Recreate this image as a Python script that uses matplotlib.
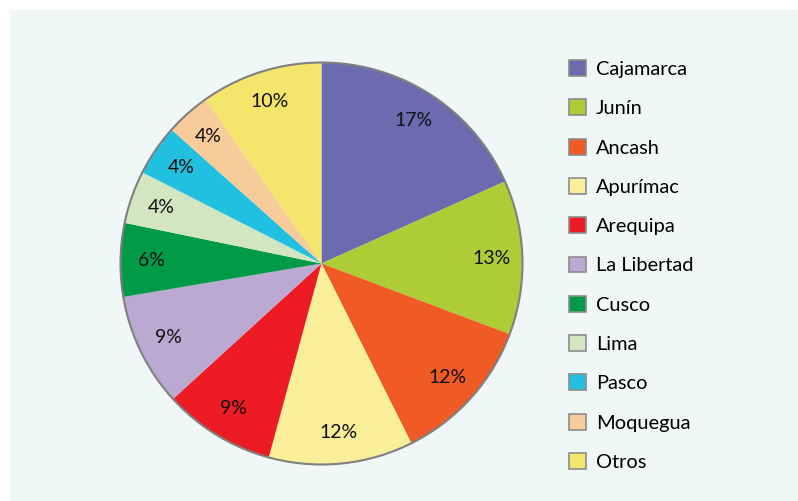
import matplotlib
matplotlib.use("Agg")
import matplotlib.pyplot as plt
from matplotlib.patches import Rectangle, Circle, Patch
import numpy as np

regions = ["Cajamarca", "Junín", "Ancash", "Apurímac", "Arequipa", "La Libertad",
           "Cusco", "Lima", "Pasco", "Moquegua", "Otros"]
shares = [18.3, 12.4, 11.9, 11.6, 9.0, 9.1, 5.9, 4.25, 4.1, 3.6, 9.8]
pct_labels = ["17%", "13%", "12%", "12%", "9%", "9%", "6%", "4%", "4%", "4%", "10%"]
colors = ["#6B6BB0", "#ADCD37", "#F05A24", "#F9EF9A", "#ED1C24", "#BCA9D1",
          "#009A49", "#D3E6C2", "#21C0E0", "#F8CB9A", "#F4E56D"]

W, H = 798, 501
fig = plt.figure(figsize=(W / 100, H / 100), dpi=100)
fig.patch.set_facecolor("white")
fig.patches.append(Rectangle((10 / W, 0), 1 - 10 / W, 1 - 10 / H, transform=fig.transFigure,
                             facecolor="#F0F8F7", edgecolor="none", zorder=-10))

cx, cy, r = 321.5, 263.5, 201
ax = fig.add_axes([(cx - r) / W, (H - cy - r) / H, 2 * r / W, 2 * r / H])
ax.set_zorder(5)
ax.set_facecolor("none")
wedges, _ = ax.pie(shares, colors=colors, startangle=90, counterclock=False, radius=1,
                   wedgeprops=dict(linewidth=0))
ax.add_patch(Circle((0, 0), 1, facecolor="none", edgecolor="#808080", linewidth=1.5, clip_on=False))
ax.set_xlim(-1, 1)
ax.set_ylim(-1, 1)
ax.set_aspect("equal")
ax.axis("off")

for w, lab in zip(wedges, pct_labels):
    mid = np.deg2rad((w.theta1 + w.theta2) / 2)
    ax.text(0.845 * np.cos(mid), 0.845 * np.sin(mid), lab, ha="center", va="center",
            fontsize=14, family="Lato", color="#111111")

handles = [Patch(facecolor=c, edgecolor="#8C8C8C", linewidth=1.2) for c in colors]
leg = fig.legend(handles, regions, loc="upper left", bbox_to_anchor=(569 / W, 1 - 60 / H),
                 frameon=False, borderpad=0, borderaxespad=0, handlelength=0.85, handleheight=0.85,
                 handletextpad=0.5, labelspacing=1.07, prop=dict(family="Lato", size=14.4))
leg.set_zorder(6)

fig.savefig("out.png", dpi=100, facecolor=fig.get_facecolor())
